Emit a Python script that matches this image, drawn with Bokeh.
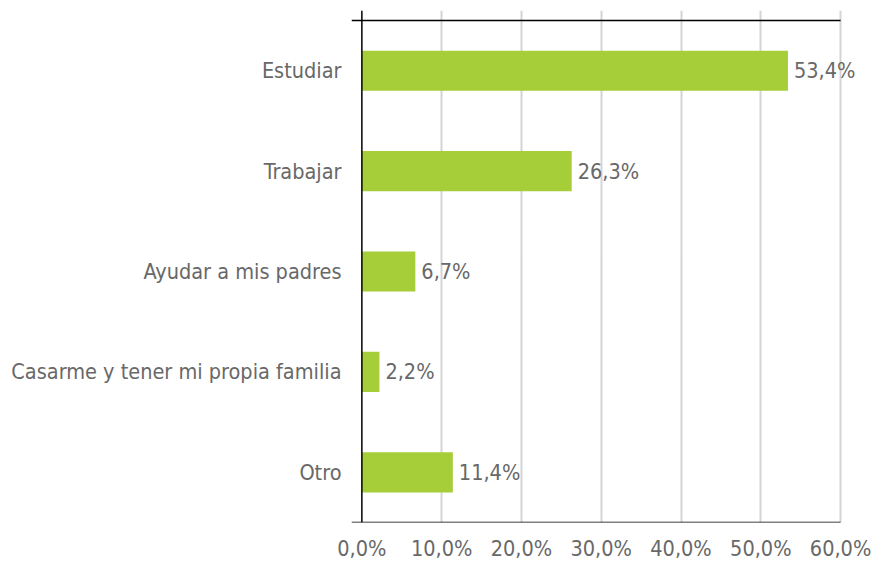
from bokeh.plotting import figure
from bokeh.models import Range1d, FixedTicker, Span, ColumnDataSource
from bokeh.core.properties import value
from bokeh.embed import file_html
from bokeh.resources import INLINE

categories = ["Estudiar", "Trabajar", "Ayudar a mis padres",
              "Casarme y tener mi propia familia", "Otro"]
values = [53.4, 26.3, 6.7, 2.2, 11.4]
x_ticks = [0, 10, 20, 30, 40, 50, 60]
x_tick_labels = ["0,0%", "10,0%", "20,0%", "30,0%", "40,0%", "50,0%", "60,0%"]

FONT = "DejaVu Sans Condensed"
FS = "21.5px"
GRAY = "#686868"
GREEN = "#a6ce39"

n = len(categories)
ypos = [n - i - 0.5 for i in range(n)]
labels = [("%.1f" % v).replace(".", ",") + "%" for v in values]
src = ColumnDataSource(dict(y=ypos, v=values, lab=labels))

X0, X1, XEND = -1.3, 60, 64
p = figure(width=874, height=563, output_backend="svg", toolbar_location=None,
           x_range=Range1d(X0, XEND), y_range=Range1d(0, n + 0.1),
           min_border_left=351, min_border_right=2, min_border_top=10,
           min_border_bottom=40)
p.outline_line_color = None

p.hbar(y="y", right="v", left=0, height=0.4, source=src,
       fill_color=GREEN, line_color=None)

p.text(x="v", y="y", text="lab", source=src, x_offset=6,
       text_baseline="middle", text_align="left",
       text_font=value(FONT), text_font_size=FS, text_color=GRAY)

# x axis
p.xaxis.ticker = FixedTicker(ticks=x_ticks)
p.xaxis.major_label_overrides = {t: l for t, l in zip(x_ticks, x_tick_labels)}
p.xaxis.major_tick_line_color = None
p.xaxis.major_tick_out = 0
p.xaxis.major_tick_in = 0
p.xaxis.minor_tick_line_color = None
p.xaxis.axis_line_color = None
p.xaxis.major_label_text_font = FONT
p.xaxis.major_label_text_font_size = FS
p.xaxis.major_label_text_color = GRAY
p.xaxis.major_label_standoff = 13

# y axis
p.yaxis.ticker = FixedTicker(ticks=ypos)
p.yaxis.major_label_overrides = {y: c for y, c in zip(ypos, categories)}
p.yaxis.major_tick_line_color = None
p.yaxis.major_tick_out = 0
p.yaxis.major_tick_in = 0
p.yaxis.minor_tick_line_color = None
p.yaxis.axis_line_color = None
p.yaxis.major_label_text_font = FONT
p.yaxis.major_label_text_font_size = FS
p.yaxis.major_label_text_color = GRAY
p.yaxis.major_label_standoff = 10

p.xgrid.ticker = FixedTicker(ticks=x_ticks[1:])
p.xgrid.grid_line_color = "#d4d4d4"
p.xgrid.grid_line_width = 2
p.ygrid.grid_line_color = None

p.add_layout(Span(location=0, dimension="height", line_color="black", line_width=1.5))
p.segment(x0=[X0, X0], x1=[X1, X1], y0=[0, n], y1=[0, n],
          line_color="black", line_width=1.5)

open("out.html", "w").write(file_html(p, INLINE))
